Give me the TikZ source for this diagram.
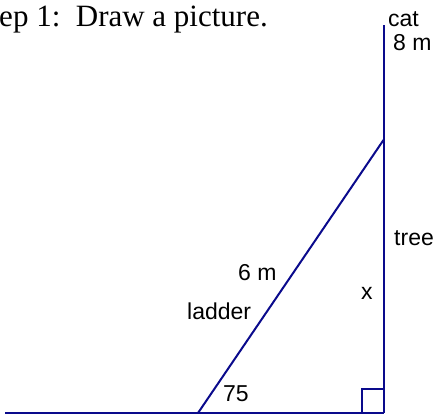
\documentclass[tikz,border=0pt]{standalone}
\usepackage{fontspec}
\setmainfont{Liberation Serif}
\setsansfont{Liberation Sans}
\begin{document}
\begin{tikzpicture}[x=1pt,y=-1pt,
  line/.style={draw=navy,line width=2pt},
  lbl/.style={font=\sffamily\fontsize{23}{23}\selectfont,inner sep=0pt},
  title/.style={font=\rmfamily\fontsize{31}{31}\selectfont,inner sep=0pt}]
\definecolor{navy}{RGB}{10,10,140}
\useasboundingbox (0,0) rectangle (436,415);
\clip (0,0) rectangle (436,415);
\coordinate (G) at (5,413);
\coordinate (A) at (383.5,413);
\coordinate (T) at (383.5,25);
\coordinate (L) at (383.5,140);
\coordinate (F) at (198,413);
\coordinate (R1) at (362,413);
\coordinate (R2) at (362,389);
\coordinate (R3) at (383.5,389);
\draw[line] (G) -- (A);
\draw[line] (A) -- (T);
\draw[line] (F) -- (L);
\draw[navy,line width=1.6pt] (R1) -- (R2) -- (R3);
\node[title,anchor=base east] (ttl) at (268,26) {ep 1:\ \ Draw a picture.};
\node[lbl,anchor=base west] (cat) at (388,26) {cat};
\node[lbl,anchor=base west] (eight) at (393,50) {8 m};
\node[lbl,anchor=base west] (tree) at (394,245) {tree};
\node[lbl,anchor=base west] (six) at (238,280) {6 m};
\node[lbl,anchor=base west] (ladder) at (187,319) {ladder};
\node[lbl,anchor=base west] (x) at (361,299) {x};
\node[lbl,anchor=base west] (ang) at (223,401) {75};
\end{tikzpicture}
\end{document}
